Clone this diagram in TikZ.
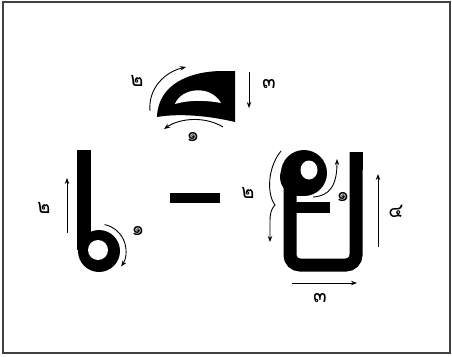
\documentclass[tikz,border=0pt]{standalone}
\usepackage{fontspec}
\newfontfamily\thaifont[Script=Thai]{Loma}
\usetikzlibrary{arrows.meta}
\tikzset{
  glyph/.style={fill=black, draw=none},
  hole/.style={fill=white, draw=none},
  stroke/.style={line width=0.9pt, -{Stealth[length=6pt,width=4.5pt]}},
  num/.style={font=\thaifont\fontsize{20}{20}\selectfont, inner sep=0pt}
}
\begin{document}
\begin{tikzpicture}[x=1pt,y=-1pt]
\useasboundingbox (0,0) rectangle (452,356);
\draw[line width=1.3pt, black!75] (3,2) rectangle (450,353);

% ---- glyph e (left) ----
\fill[glyph] (77,150) rectangle (91,250);
\fill[glyph] (99,251) circle[radius=21];
\fill[hole] (98,250) circle[radius=10];
\draw[stroke] (67,233) -- (67,178);
\node[num] (e2) at (44,208) {๒};
\draw[stroke] (99,251) ++(-78:27) arc[start angle=-78, end angle=35, radius=27];
\node[num] (e1) at (138,231) {๑};

% ---- dash ----
\fill[glyph] (170,193) rectangle (220,203);

% ---- top mark ----
\fill[glyph] (157,117) .. controls (158,84) and (190,71) .. (223,71) -- (235,71) -- (235,122)
   .. controls (210,116) and (180,113) .. (157,117) -- cycle;
\fill[hole] (175,104) .. controls (181,88) and (210,84) .. (221,103)
   .. controls (205,100) and (188,100) .. (175,104) -- cycle;
\draw[stroke] (150,111) .. controls (148,88) and (165,72) .. (186,67);
\node[num] (t2) at (137,81) {๒};
\draw[stroke] (249,72) -- (249,108);
\node[num] (t3) at (269,84) {๓};
\draw[stroke] (223,127) .. controls (205,116) and (180,118) .. (164,129);
\node[num] (t1) at (193,137) {๑};

% ---- glyph yo (right) ----
\draw[line width=13pt, rounded corners=10pt] (290,185) -- (290,265) -- (356,265) -- (356,152);
\fill[glyph] (349.5,152) rectangle (362.5,170);
\fill[glyph] (290,202) rectangle (330,213);
\fill[glyph] (304,173) circle[radius=23];
\fill[glyph] (299,177) circle[radius=19];
\fill[hole] (309,170) ellipse[x radius=8.5, y radius=9.5];
\draw[stroke] (281,151) .. controls (267,168) and (267,195) .. (275,205)
   .. controls (271,209) and (270,214) .. (270,222) -- (270,242);
\node[num] (y2) at (248,193) {๒};
\draw[stroke] (313,197) .. controls (330,196) and (337,185) .. (337,159);
\node[num] (y1) at (343,197) {๑};
\draw[stroke] (378,247) -- (378,174);
\node[num] (y4) at (396,211) {๔};
\draw[stroke] (292,283) -- (357,283);
\node[num] (y3) at (320,298) {๓};
\end{tikzpicture}
\end{document}
